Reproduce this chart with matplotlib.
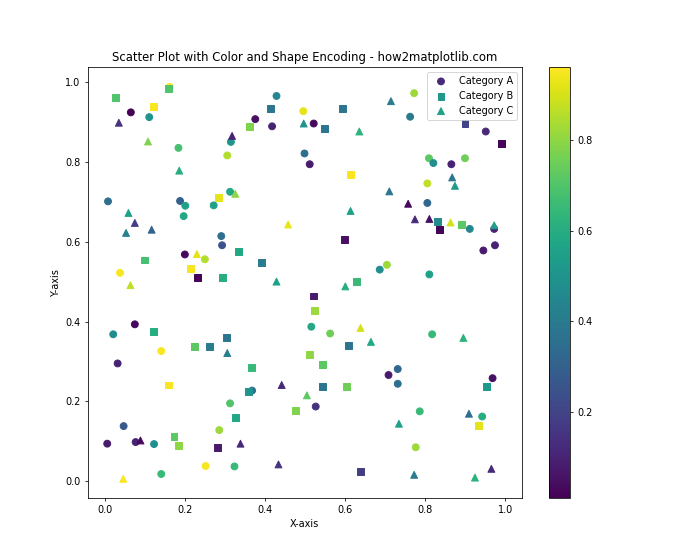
import matplotlib
matplotlib.use('Agg')
import matplotlib.pyplot as plt
import numpy as np

# Category A (circles)
a_x = [0.951, 0.064, 0.110, 0.314, 0.183, 0.305, 0.007, 0.187, 0.200, 0.271,
       0.312, 0.196, 0.428, 0.495, 0.375, 0.417, 0.521, 0.498, 0.511, 0.772,
       0.762, 0.161, 0.809, 0.820, 0.865, 0.899, 0.805, 0.805, 0.911, 0.972,
       0.974, 0.945, 0.704, 0.686, 0.810, 0.817, 0.515, 0.562, 0.290, 0.292,
       0.199, 0.249, 0.037, 0.074, 0.020, 0.140, 0.031, 0.312, 0.046, 0.285,
       0.005, 0.076, 0.122, 0.251, 0.323, 0.140, 0.367, 0.526, 0.708, 0.731,
       0.731, 0.968, 0.786, 0.942, 0.776]
a_y = [0.876, 0.924, 0.912, 0.850, 0.835, 0.816, 0.701, 0.702, 0.690, 0.691,
       0.725, 0.664, 0.965, 0.927, 0.907, 0.889, 0.896, 0.821, 0.794, 0.972,
       0.913, 0.988, 0.809, 0.797, 0.794, 0.809, 0.746, 0.697, 0.632, 0.632,
       0.591, 0.578, 0.542, 0.530, 0.518, 0.368, 0.387, 0.370, 0.614, 0.591,
       0.568, 0.556, 0.522, 0.393, 0.368, 0.326, 0.295, 0.195, 0.138, 0.128,
       0.094, 0.098, 0.093, 0.038, 0.037, 0.018, 0.227, 0.187, 0.266, 0.281,
       0.244, 0.258, 0.175, 0.162, 0.085]
a_c = [0.12, 0.01, 0.50, 0.50, 0.68, 0.85, 0.35, 0.30, 0.55, 0.55,
       0.58, 0.58, 0.45, 0.92, 0.05, 0.10, 0.03, 0.35, 0.08, 0.82,
       0.40, 0.96, 0.72, 0.48, 0.10, 0.75, 0.87, 0.32, 0.45, 0.10,
       0.10, 0.08, 0.82, 0.48, 0.55, 0.65, 0.58, 0.75, 0.35, 0.25,
       0.03, 0.85, 0.95, 0.03, 0.47, 0.95, 0.10, 0.70, 0.27, 0.82,
       0.08, 0.10, 0.48, 0.95, 0.65, 0.65, 0.35, 0.15, 0.08, 0.32,
       0.35, 0.05, 0.65, 0.60, 0.82]

# Category B (squares)
b_x = [0.953, 0.026, 0.120, 0.283, 0.412, 0.594, 0.360, 0.549, 0.612, 0.899,
       0.991, 0.831, 0.836, 0.891, 0.599, 0.332, 0.390, 0.627, 0.521, 0.524,
       0.609, 0.511, 0.098, 0.213, 0.230, 0.294, 0.120, 0.302, 0.223, 0.260,
       0.158, 0.326, 0.172, 0.183, 0.280, 0.365, 0.359, 0.544, 0.604, 0.542,
       0.475, 0.639, 0.158, 0.933]
b_y = [0.238, 0.962, 0.938, 0.711, 0.934, 0.934, 0.889, 0.884, 0.769, 0.897,
       0.847, 0.651, 0.631, 0.643, 0.605, 0.576, 0.547, 0.501, 0.464, 0.428,
       0.340, 0.317, 0.554, 0.533, 0.511, 0.511, 0.375, 0.359, 0.338, 0.338,
       0.241, 0.160, 0.112, 0.089, 0.084, 0.285, 0.224, 0.237, 0.237, 0.292,
       0.177, 0.024, 0.983, 0.140]
b_c = [0.52, 0.70, 0.95, 0.92, 0.38, 0.38, 0.78, 0.38, 0.95, 0.20,
       0.02, 0.47, 0.02, 0.72, 0.05, 0.58, 0.40, 0.65, 0.08, 0.82,
       0.38, 0.80, 0.68, 0.95, 0.02, 0.60, 0.60, 0.38, 0.72, 0.40,
       0.95, 0.58, 0.72, 0.80, 0.08, 0.65, 0.50, 0.38, 0.75, 0.72,
       0.78, 0.18, 0.70, 0.92]

# Category C (triangles)
c_x = [0.058, 0.317, 0.107, 0.185, 0.325, 0.034, 0.496, 0.635, 0.613, 0.714,
       0.867, 0.874, 0.710, 0.757, 0.774, 0.810, 0.863, 0.972, 0.895, 0.664,
       0.457, 0.428, 0.600, 0.638, 0.074, 0.052, 0.116, 0.229, 0.063, 0.305,
       0.088, 0.045, 0.441, 0.504, 0.338, 0.433, 0.734, 0.909, 0.772, 0.965,
       0.924]
c_y = [0.672, 0.865, 0.851, 0.778, 0.720, 0.898, 0.896, 0.876, 0.677, 0.952,
       0.761, 0.740, 0.726, 0.695, 0.656, 0.657, 0.648, 0.641, 0.359, 0.349,
       0.643, 0.500, 0.488, 0.384, 0.647, 0.622, 0.630, 0.569, 0.491, 0.321,
       0.102, 0.006, 0.241, 0.215, 0.094, 0.042, 0.144, 0.169, 0.016, 0.031,
       0.009]
c_c = [0.55, 0.10, 0.78, 0.60, 0.80, 0.15, 0.50, 0.62, 0.55, 0.40,
       0.38, 0.52, 0.38, 0.03, 0.12, 0.05, 0.90, 0.55, 0.62, 0.58,
       0.93, 0.55, 0.60, 0.90, 0.18, 0.42, 0.30, 0.92, 0.87, 0.42,
       0.03, 0.95, 0.12, 0.72, 0.12, 0.15, 0.55, 0.35, 0.40, 0.12,
       0.62]

categories = ['Category A', 'Category B', 'Category C']
markers = ['o', 's', '^']

# Shared colour scale for all three groups
all_c = a_c + b_c + c_c
vmin, vmax = min(all_c), max(all_c)

fig, ax = plt.subplots(figsize=(10, 8), dpi=70)

groups = [(a_x, a_y, a_c), (b_x, b_y, b_c), (c_x, c_y, c_c)]
for (gx, gy, gc), label, m in zip(groups, categories, markers):
    sc = ax.scatter(gx, gy, c=gc, cmap='viridis', vmin=vmin, vmax=vmax,
                    marker=m, s=50, label=label)

plt.colorbar(sc, ax=ax)

ax.set_title('Scatter Plot with Color and Shape Encoding - how2matplotlib.com')
ax.set_xlabel('X-axis')
ax.set_ylabel('Y-axis')
ax.legend(loc='upper right')

plt.savefig('out.png', dpi=70)
